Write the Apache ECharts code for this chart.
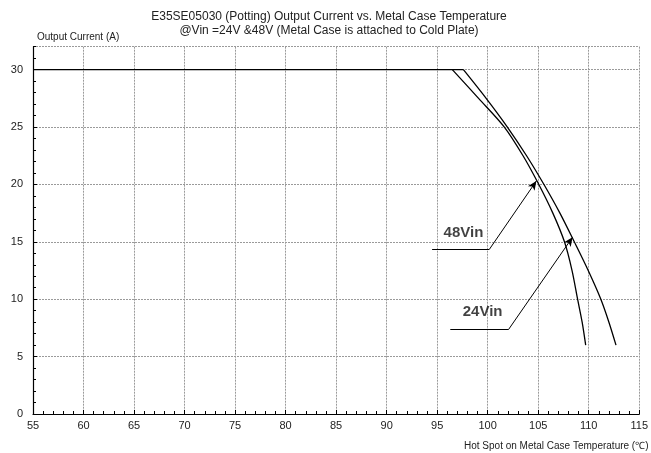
<!DOCTYPE html>
<html><head><meta charset="utf-8">
<script src="https://cdn.jsdelivr.net/npm/echarts@6/dist/echarts.min.js"></script>
<style>html,body{margin:0;padding:0;background:#fff}#c{width:651px;height:453px}</style>
</head><body><div id="c"></div>
<script>
// Data
const flat = [[55, 30], [97.6, 30]];
const vin48 = [[96.5, 30], [99.1, 27.5], [101.65, 25], [103.5, 22.5], [105.0, 20.1], [106.45, 17.5], [107.6, 15], [108.35, 12.5], [108.9, 10], [109.35, 8], [109.7, 6]];
const vin24 = [[97.6, 30], [99.85, 27.5], [101.95, 25], [103.85, 22.5], [105.5, 20.1], [107.15, 17.5], [108.57, 15], [109.95, 12.5], [111.2, 10], [112.0, 8], [112.7, 6]];
const leader48 = [[94.5, 14.35], [100.17, 14.35], [104.82, 20.3]];
const leader24 = [[96.3, 7.38], [102.08, 7.38], [108.4, 15.4]];
const labels = [[97.6, 15.8, '48Vin'], [99.5, 8.9, '24Vin']];
const titleLines = ['E35SE05030 (Potting) Output Current vs. Metal Case Temperature', '@Vin =24V &48V (Metal Case is attached to Cold Plate)'];
const xTicks = [55, 115, 5];
const yTicks = [0, 32, 5];

const FONT = 'Liberation Sans, Arial, sans-serif';
function leaderMark(pts) {
  return {
    silent: true, animation: false,
    lineStyle: { color: '#000', width: 1, type: 'solid' },
    label: { show: false },
    data: [
      [{ coord: pts[0], symbol: 'none' }, { coord: pts[1], symbol: 'none' }],
      [{ coord: pts[1], symbol: 'none' }, { coord: pts[2], symbol: 'arrow', symbolSize: [6, 9] }]
    ]
  };
}
const chart = echarts.init(document.getElementById('c'), null, { renderer: 'canvas' });
chart.setOption({
  animation: false,
  textStyle: { fontFamily: FONT },
  graphic: titleLines.map((t, i) => ({
    type: 'text', x: 329, y: 11 + i * 14, silent: true,
    style: { text: t, fill: '#222', font: '12px ' + FONT, textAlign: 'center', textVerticalAlign: 'top' }
  })),
  title: [
    { text: 'Output Current (A)', left: 37, top: 32, padding: 0, textStyle: { fontSize: 10, fontWeight: 'normal', color: '#222', fontFamily: FONT } },
    { text: 'Hot Spot on Metal Case Temperature (\u2103)', left: 464, top: 441, padding: 0, textStyle: { fontSize: 10, fontWeight: 'normal', color: '#222', fontFamily: FONT } }
  ],
  grid: { left: 33, right: 11, top: 46.7, bottom: 39, containLabel: false },
  xAxis: [
    { type: 'value', min: xTicks[0], max: xTicks[1], interval: xTicks[2],
      axisLine: { show: true, lineStyle: { color: '#000', width: 1.2 } },
      axisTick: { show: true, inside: true, length: 4, lineStyle: { color: '#000' } },
      axisLabel: { color: '#222', fontSize: 11, margin: 6, fontFamily: FONT },
      splitLine: { show: true, lineStyle: { color: '#9a9a9a', type: [2, 1], width: 1 } } },
    { type: 'value', min: xTicks[0], max: xTicks[1], interval: 1, position: 'bottom',
      axisLine: { show: false }, axisLabel: { show: false }, splitLine: { show: false },
      axisTick: { show: true, inside: true, length: 3, lineStyle: { color: '#000' } } }
  ],
  yAxis: [
    { type: 'value', min: yTicks[0], max: yTicks[1], interval: yTicks[2],
      axisLine: { show: true, lineStyle: { color: '#000', width: 1.2 } },
      axisTick: { show: true, inside: true, length: 4, lineStyle: { color: '#000' } },
      axisLabel: { color: '#222', fontSize: 11, margin: 10, fontFamily: FONT, showMaxLabel: false },
      splitLine: { show: true, lineStyle: { color: '#9a9a9a', type: [2, 1], width: 1 } } },
    { type: 'value', min: yTicks[0], max: yTicks[1], interval: 1, position: 'left',
      axisLine: { show: false }, axisLabel: { show: false }, splitLine: { show: false },
      axisTick: { show: true, inside: true, length: 3, lineStyle: { color: '#000' } } }
  ],
  series: [
    { type: 'line', data: flat, symbol: 'none', lineStyle: { color: '#000', width: 1.4 }, silent: true },
    { name: '48Vin', type: 'line', data: vin48, symbol: 'none', smooth: 0.3, lineStyle: { color: '#000', width: 1.3 }, silent: true },
    { name: '24Vin', type: 'line', data: vin24, symbol: 'none', smooth: 0.3, lineStyle: { color: '#000', width: 1.3 }, silent: true },
    { type: 'line', data: [], symbol: 'none', markLine: leaderMark(leader48) },
    { type: 'line', data: [], symbol: 'none', markLine: leaderMark(leader24) },
    { type: 'scatter', data: labels, symbolSize: 0, silent: true,
      label: { show: true, position: 'inside', formatter: p => p.value[2], color: '#111', fontSize: 15, fontWeight: 'bold', fontFamily: FONT } }
  ]
});
</script>
</body></html>
